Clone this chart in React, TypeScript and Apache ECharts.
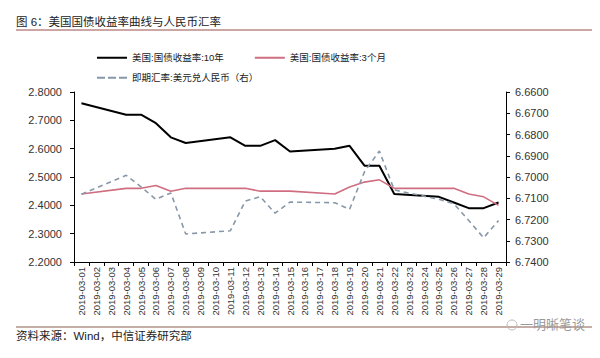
import React, { useEffect, useRef } from "react";
import * as echarts from "echarts";

const categories = [
  "2019-03-01", "2019-03-02", "2019-03-03", "2019-03-04", "2019-03-05", "2019-03-06", "2019-03-07",
  "2019-03-08", "2019-03-09", "2019-03-10", "2019-03-11", "2019-03-12", "2019-03-13", "2019-03-14",
  "2019-03-15", "2019-03-16", "2019-03-17", "2019-03-18", "2019-03-19", "2019-03-20", "2019-03-21",
  "2019-03-22", "2019-03-23", "2019-03-24", "2019-03-25", "2019-03-26", "2019-03-27", "2019-03-28",
  "2019-03-29",
];

const yield10Y = [
  2.76, null, null, 2.72, 2.72, 2.69, 2.64, 2.62, null, null, 2.64, 2.61, 2.61, 2.63, 2.59,
  null, null, 2.60, 2.61, 2.54, 2.54, 2.44, null, null, 2.43, 2.41, 2.39, 2.39, 2.41,
];

const yield3M = [
  2.44, null, null, 2.46, 2.46, 2.47, 2.45, 2.46, null, null, 2.46, 2.46, 2.45, 2.45, 2.45,
  null, null, 2.44, 2.465, 2.482, 2.49, 2.46, null, null, 2.46, 2.46, 2.44, 2.43, 2.40,
];

const usdCny = [
  6.7081, null, null, 6.6992, 6.7046, 6.7105, 6.7075, 6.7268, null, null, 6.7253, 6.7113, 6.7093,
  6.7170, 6.7118, null, null, 6.7121, 6.7152, 6.6975, 6.6878, 6.7061, null, null, 6.7105, 6.7126,
  6.7205, 6.7286, 6.7205,
];

const leftTicks = { min: 2.2, max: 2.8, interval: 0.1 };
const rightTicks = { min: 6.66, max: 6.74, interval: 0.01 };

const seriesNames = ["美国:国债收益率:10年", "美国:国债收益率:3个月", "即期汇率:美元兑人民币（右）"];

const FONT = "'Liberation Sans', 'Noto Sans CJK SC', sans-serif";

const DASH_ICON = "path://M0,0h8v2h-8z M11,0h8v2h-8z M22,0h8v2h-8z";

export default function App() {
  const ref = useRef<HTMLDivElement>(null);

  useEffect(() => {
    if (!ref.current) return;
    const chart = echarts.init(ref.current, undefined, { renderer: "svg" });
    const axisLine = { show: true, lineStyle: { color: "#000", width: 1 } };
    const legendText = { fontSize: 9.5, color: "#222", fontFamily: FONT };
    chart.setOption({
      animation: false,
      backgroundColor: "#fff",
      textStyle: { fontFamily: FONT },
      grid: { left: 74, right: 94, top: 92, bottom: 96, containLabel: false },
      legend: [
        {
          data: [
            { name: seriesNames[0], icon: "rect" },
            { name: seriesNames[1], icon: "rect" },
          ],
          left: 92,
          top: 48,
          itemWidth: 30,
          itemHeight: 2,
          itemGap: 31,
          textStyle: legendText,
        },
        {
          data: [{ name: seriesNames[2], icon: DASH_ICON }],
          left: 92,
          top: 68,
          itemWidth: 30,
          itemHeight: 2,
          textStyle: legendText,
        },
      ],
      xAxis: {
        type: "category",
        data: categories,
        boundaryGap: true,
        axisLine,
        axisTick: { show: true, length: 4, lineStyle: { color: "#000" } },
        axisLabel: { rotate: 90, interval: 0, fontSize: 9.5, color: "#333", margin: 5, fontFamily: FONT },
        splitLine: { show: false },
      },
      yAxis: [
        {
          type: "value",
          min: leftTicks.min,
          max: leftTicks.max,
          interval: leftTicks.interval,
          position: "left",
          axisLine,
          axisTick: { show: true, length: 4, lineStyle: { color: "#000" } },
          axisLabel: {
            fontSize: 11,
            color: "#333",
            margin: 12,
            fontFamily: FONT,
            formatter: (v: number) => v.toFixed(4),
          },
          splitLine: { show: false },
        },
        {
          type: "value",
          min: rightTicks.min,
          max: rightTicks.max,
          interval: rightTicks.interval,
          inverse: true,
          position: "right",
          axisLine,
          axisTick: { show: true, length: 4, lineStyle: { color: "#000" } },
          axisLabel: {
            fontSize: 11,
            color: "#333",
            margin: 9,
            fontFamily: FONT,
            formatter: (v: number) => v.toFixed(4),
          },
          splitLine: { show: false },
        },
      ],
      series: [
        {
          name: seriesNames[0],
          type: "line",
          data: yield10Y,
          connectNulls: true,
          symbol: "none",
          lineStyle: { color: "#000", width: 2 },
          itemStyle: { color: "#000" },
        },
        {
          name: seriesNames[1],
          type: "line",
          data: yield3M,
          connectNulls: true,
          symbol: "none",
          lineStyle: { color: "#CF6E80", width: 1.6 },
          itemStyle: { color: "#CF6E80" },
        },
        {
          name: seriesNames[2],
          type: "line",
          yAxisIndex: 1,
          data: usdCny,
          connectNulls: true,
          symbol: "none",
          lineStyle: { color: "#8797AA", width: 1.6, type: [5, 4] },
          itemStyle: { color: "#8797AA" },
        },
      ],
      graphic: [
        {
          type: "text",
          left: 16,
          top: 16,
          style: { text: "图 6：美国国债收益率曲线与人民币汇率", fontSize: 11.5, fill: "#222", fontFamily: FONT },
        },
        {
          type: "line",
          shape: { x1: 16, y1: 30, x2: 592, y2: 30 },
          style: { stroke: "#9A4C4C", lineWidth: 1 },
        },
        {
          type: "line",
          shape: { x1: 16, y1: 327, x2: 592, y2: 327 },
          style: { stroke: "#8A5A50", lineWidth: 1 },
        },
        {
          type: "text",
          left: 16,
          top: 330,
          style: { text: "资料来源：Wind，中信证券研究部", fontSize: 11.5, fill: "#222", fontFamily: FONT },
        },
        {
          type: "circle",
          shape: { cx: 512, cy: 325, r: 5 },
          style: { fill: "none", stroke: "#bbb", lineWidth: 1 },
        },
        {
          type: "text",
          left: 520,
          top: 318,
          style: { text: "一明晰笔谈", fontSize: 13, fill: "#999", fontFamily: FONT },
        },
      ],
    });
    return () => chart.dispose();
  }, []);

  return (
    <div
      ref={ref}
      style={{ position: "fixed", left: 0, top: 0, width: 600, height: 358, background: "#fff" }}
    />
  );
}
